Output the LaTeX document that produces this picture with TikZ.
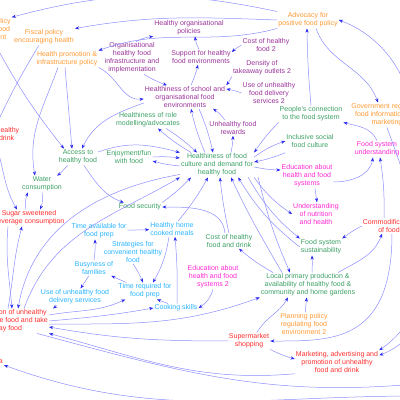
\documentclass[tikz,border=0pt]{standalone}
\usepackage{fontspec}
\setmainfont{Liberation Sans}
\usetikzlibrary{arrows.meta}
\definecolor{policyorange}{RGB}{255,153,51}
\definecolor{orgpurple}{RGB}{153,51,153}
\definecolor{culturegreen}{RGB}{60,160,100}
\definecolor{edumagenta}{RGB}{255,40,210}
\definecolor{harmred}{RGB}{255,45,45}
\definecolor{homecyan}{RGB}{40,180,255}
\definecolor{linkblue}{RGB}{140,140,255}
\definecolor{tipblue}{RGB}{40,40,240}

\begin{document}
\begin{tikzpicture}[x=1pt, y=1pt,
  font=\fontsize{7}{8}\selectfont,
  lbl/.style={align=center, inner sep=1pt},
  policy/.style={lbl, text=policyorange},
  orgenv/.style={lbl, text=orgpurple},
  culturenode/.style={lbl, text=culturegreen},
  edunode/.style={lbl, text=edumagenta},
  harm/.style={lbl, text=harmred},
  homenode/.style={lbl, text=homecyan},
  link/.style={draw=linkblue, line width=0.5pt,
    -{Stealth[length=4.2pt, width=3.2pt, color=tipblue]}}]
  \useasboundingbox (0,0) rectangle (400,400);
  \clip (0,0) rectangle (400,400);

  % policy
  \node[policy] (planpol) at (-13,371) {Planning policy\\regulating food\\environment};
  \node[policy] (fiscal) at (44,363) {Fiscal policy\\encouraging health};
  \node[policy] (healthpromo) at (67,341) {Health promotion \&\\infrastructure policy};
  \node[policy] (advocacy) at (308,380) {Advocacy for\\positive food policy};
  \node[policy] (govreg) at (387,285) {Government regulation\\food information and\\marketing};
  \node[policy] (planpol2) at (304,76) {Planning policy\\regulating food\\environment 2};

  % organisational environments
  \node[orgenv] (orgpol) at (189,372) {Healthy organisational\\policies};
  \node[orgenv] (orginfra) at (132,342) {Organisational\\healthy food\\infrastructure and\\implementation};
  \node[orgenv] (support) at (201,343) {Support for healthy\\food environments};
  \node[orgenv] (costfood2) at (266,355) {Cost of healthy\\food 2};
  \node[orgenv] (density) at (262,332) {Density of\\takeaway outlets 2};
  \node[orgenv] (delivery2) at (269,307) {Use of unhealthy\\food delivery\\services 2};
  \node[orgenv] (schoolenv) at (185,303) {Healthiness of school and\\organisational food\\environments};
  \node[orgenv] (rewards) at (233,272) {Unhealthy food\\rewards};

  % food culture
  \node[culturenode] (rolemodel) at (148,280) {Healthiness of role\\modelling/advocates};
  \node[culturenode] (access) at (78,243) {Access to\\healthy food};
  \node[culturenode] (enjoy) at (129,243) {Enjoyment/fun\\with food};
  \node[culturenode] (culture) at (217,235) {Healthiness of food\\culture and demand for\\healthy food};
  \node[culturenode] (connection) at (311,286) {People's connection\\to the food system};
  \node[culturenode] (inclusive) at (310,259) {Inclusive social\\food culture};
  \node[culturenode] (water) at (42,216) {Water\\consumption};
  \node[culturenode] (security) at (140,193) {Food security};
  \node[culturenode] (costhealthy) at (229,159) {Cost of healthy\\food and drink};
  \node[culturenode] (sustain) at (321,153) {Food system\\sustainability};
  \node[culturenode] (localprod) at (308,115) {Local primary production \&\\availability of healthy food \&\\community and home gardens};

  % education
  \node[edunode] (educ) at (307,224) {Education about\\health and food\\systems};
  \node[edunode] (understand) at (316,186) {Understanding\\of nutrition\\and health};
  \node[edunode] (fsunderstand) at (377,251) {Food system\\understanding};
  \node[edunode] (educ2) at (213,123) {Education about\\health and food\\systems 2};

  % unhealthy food
  \node[harm] (costunh) at (-8,266) {Cost of unhealthy\\food and drink};
  \node[harm] (sugar) at (29,182) {Sugar sweetened\\beverage consumption};
  \node[harm] (commod) at (389,174) {Commodification\\of food};
  \node[harm] (supermarket) at (249,59) {Supermarket\\shopping};
  \node[harm] (marketing) at (337,38) {Marketing, advertising and\\promotion of unhealthy\\food and drink};
  \node[harm] (consumption) at (6,79) {Consumption of unhealthy\\convenience food and take\\away food};
  \node[harm, anchor=east] (outcome) at (4,38) {a};

  % home cooking
  \node[homenode] (timeavail) at (99,169) {Time available for\\food prep};
  \node[homenode] (homecooked) at (172,171) {Healthy home\\cooked meals};
  \node[homenode] (strategies) at (133,148) {Strategies for\\convenient healthy\\food};
  \node[homenode] (busyness) at (94,132) {Busyness of\\families};
  \node[homenode] (delivery) at (75,103) {Use of unhealthy food\\delivery services};
  \node[homenode] (timereq) at (145,109) {Time required for\\food prep};
  \node[homenode] (cooking) at (176,92) {Cooking skills};

  \coordinate (offbr) at (415,16);
  \coordinate (offbr2) at (415,4);

  % policy links
  \draw[link] (advocacy.north west) to[out=168,in=15] (planpol.north east);
  \draw[link] (advocacy.west) to[out=178,in=10] (fiscal.north east);
  \draw[link] (advocacy.south west) to[out=195,in=20] (healthpromo.north east);
  \draw[link] (planpol) to[bend right=5] ([xshift=-14pt]access.north);
  \draw[link] (fiscal) to[bend right=3] (costunh);
  \draw[link] ([xshift=-9pt]healthpromo.south) to[out=250,in=100] ([xshift=-7pt]water.north);
  \draw[link] ([xshift=-2pt]healthpromo.south) to[out=275,in=95] ([xshift=-6pt]access.north);
  \draw[link] (healthpromo.south east) to[out=-25,in=185] ([yshift=-2pt]schoolenv.west);
  \draw[link] ([yshift=-6pt]schoolenv.west) to[out=200,in=65] ([xshift=4pt]access.north);
  \draw[link] (connection.north) to[bend left=2] ([xshift=-1pt]advocacy.south);
  \draw[link] ([xshift=8pt]advocacy.south) to[out=-70,in=110] ([xshift=-9pt]govreg.north);
  \draw[link] (fsunderstand.east) to[out=60,in=-20] (advocacy.east);
  \draw[link] (govreg.south) to[out=-70,in=35] (marketing.north east);
  \draw[link] (commod.east) to[out=-40,in=20] ([yshift=-5pt]marketing.north east);
  \draw[link] (planpol2) -- (localprod);

  % organisational links
  \draw[link] ([xshift=4pt]orginfra.north) to[bend left=10] (orgpol.south west);
  \draw[link] ([xshift=-2pt]support.north) to[bend left=10] ([xshift=6pt]orgpol.south);
  \draw[link] ([xshift=6pt]schoolenv.north) to[bend right=5] ([xshift=-3pt]support.south);
  \draw[link] ([xshift=12pt]orginfra.south) to[bend right=5] ([xshift=-18pt]schoolenv.north);
  \draw[link] (costfood2.west) to[bend right=5] ([yshift=5pt]support.east);
  \draw[link] (density.south west) to[bend left=5] (schoolenv.north east);
  \draw[link] (delivery2.west) to[bend right=5] ([yshift=8pt]schoolenv.east);
  \draw[link] ([xshift=-8pt]rewards.north) to[bend right=10] ([xshift=28pt]schoolenv.south);

  % food culture links
  \draw[link] ([yshift=5pt]access.east) to[out=20,in=165] (culture.north west);
  \draw[link] (enjoy.east) to[bend left=5] ([yshift=7pt]culture.west);
  \draw[link] ([yshift=-1pt]culture.west) to[bend left=5] ([yshift=-4pt]enjoy.east);
  \draw[link] ([xshift=18pt]rolemodel.south) to[bend left=5] ([xshift=-20pt]culture.north);
  \draw[link] ([xshift=-26pt]culture.north) to[bend left=5] ([xshift=10pt]rolemodel.south);
  \draw[link] ([xshift=14pt]schoolenv.south) to[bend left=5] ([xshift=-4pt]culture.north);
  \draw[link] ([xshift=-12pt]culture.north) to[bend left=5] ([xshift=6pt]schoolenv.south);
  \draw[link] ([xshift=14pt]culture.north) to[bend right=5] (rewards.south);
  \draw[link] (connection.south west) to[bend right=5] (culture.north east);
  \draw[link] ([yshift=8pt]culture.east) to[bend left=8] (inclusive.west);
  \draw[link] ([yshift=-4pt]inclusive.south west) to[bend left=5] ([yshift=3pt]culture.east);
  \draw[link] ([yshift=-2pt]culture.east) to[bend right=5] ([yshift=6pt]educ.west);
  \draw[link] (culture.south east) to[bend right=10] (understand.west);
  \draw[link] ([xshift=-6pt]culture.south east) to[bend right=10] (sustain.north west);
  \draw[link] (sustain.west) to[bend left=10] ([xshift=-16pt]culture.south east);
  \draw[link] ([xshift=-26pt]localprod.north) to[out=120,in=-65] ([xshift=14pt]culture.south);
  \draw[link] ([xshift=4pt]culture.south east) to[bend right=5] ([xshift=-18pt]localprod.north);
  \draw[link] (costhealthy.north) to[bend left=3] ([xshift=3pt]culture.south);
  \draw[link] ([xshift=6pt]homecooked.north) to[bend right=5] ([xshift=-9pt]culture.south);
  \draw[link] (security.north east) to[bend right=5] ([xshift=-26pt]culture.south);
  \draw[link] ([yshift=3pt]culture.south west) to[out=190,in=80] ([xshift=12pt]consumption.north);
  \draw[link] ([xshift=18pt]consumption.north) to[out=70,in=210] (culture.south west);
  \draw[link] (access) to[out=220,in=35] ([xshift=-6pt]water.north east);
  \draw[link] (access) to[out=-55,in=160] ([xshift=6pt]security.north west);
  \draw[link] ([xshift=-4pt]costhealthy.north) to[out=95,in=0] (security.east);
  \draw[link] ([xshift=-35pt]localprod.north) to[bend left=5] ([xshift=10pt]costhealthy.south);
  \draw[link] ([xshift=4pt]localprod.north) to[bend right=3] ([xshift=-9pt]sustain.south);

  % sugar and water
  \draw[link] (costunh) to[out=-70,in=120] ([xshift=-12pt]sugar.north);
  \draw[link] ([xshift=-3pt]sugar.north) to[bend left=15] ([xshift=-14pt]water.south);
  \draw[link] (water.south) to[bend left=15] ([xshift=11pt]sugar.north);
  \draw[link] ([xshift=-21pt]sugar.south) to[out=265,in=95] ([xshift=6pt]consumption.north);
  \draw[link] ([xshift=2pt]consumption.north) to[out=80,in=255] ([xshift=-7pt]sugar.south);

  % education links
  \draw[link] ([xshift=8pt]educ.south) -- ([xshift=1pt]understand.north);
  \draw[link] ([yshift=-6pt]educ.east) to[out=0,in=-100] ([xshift=-4pt]fsunderstand.south);
  \draw[link] (fsunderstand.north) to[out=115,in=-15] (connection.south east);
  \draw[link] (educ2.south) to[bend left=20] (cooking.east);

  % commodification and retail
  \draw[link] (commod.west) to[bend right=5] (sustain.north east);
  \draw[link] ([xshift=30pt]localprod.north) to[out=30,in=250] ([xshift=-7pt]commod.south);
  \draw[link] ([xshift=-5pt]commod.north) to[bend right=5] ([xshift=3pt]fsunderstand.south);
  \draw[link] ([xshift=3pt]commod.south) .. controls +(0,-110) and +(60,0) .. (supermarket.east);
  \draw[link] (supermarket.south east) to[bend right=5] ([yshift=3pt]marketing.west);
  \draw[link] ([xshift=8pt]supermarket.north) to[out=60,in=240] ([xshift=-20pt]localprod.south);
  \draw[link] (supermarket.west) to[out=180,in=-10] ([yshift=-6pt]consumption.east);
  \draw[link] (marketing.south west) to[out=185,in=-15] (consumption.south east);

  % home cooking links
  \draw[link] (timeavail) -- (homecooked);
  \draw[link] (busyness.north) to[bend right=5] ([xshift=-4pt]timeavail.south);
  \draw[link] (busyness) -- (delivery);
  \draw[link] (timereq) -- (busyness);
  \draw[link] ([xshift=-3pt]homecooked.south) to[bend left=10] ([xshift=8pt]timereq.north);
  \draw[link] ([xshift=1pt]cooking.north) to[bend right=3] ([xshift=3pt]homecooked.south);
  \draw[link] (strategies.south) to[bend left=5] ([xshift=-2pt]timereq.north);
  \draw[link] ([xshift=-8pt]cooking.north) -- ([xshift=12pt]timereq.south);
  \draw[link] ([xshift=-18pt]delivery.south) -- ([xshift=4pt]consumption.north east);

  % consumption links
  \draw[link] ([yshift=6pt]consumption.east) to[out=10,in=205] ([xshift=8pt]timereq.south west);
  \draw[link] (consumption.east) to[out=5,in=190] (cooking.west);
  \draw[link] ([yshift=-3pt]consumption.east) to[out=0,in=200] (localprod.south west);
  \draw[link] ([xshift=-12pt]consumption.south east) to[out=-15,in=185] (offbr);
  \draw[link] (offbr2) to[out=180,in=-20] (outcome.south east);
\end{tikzpicture}
\end{document}
